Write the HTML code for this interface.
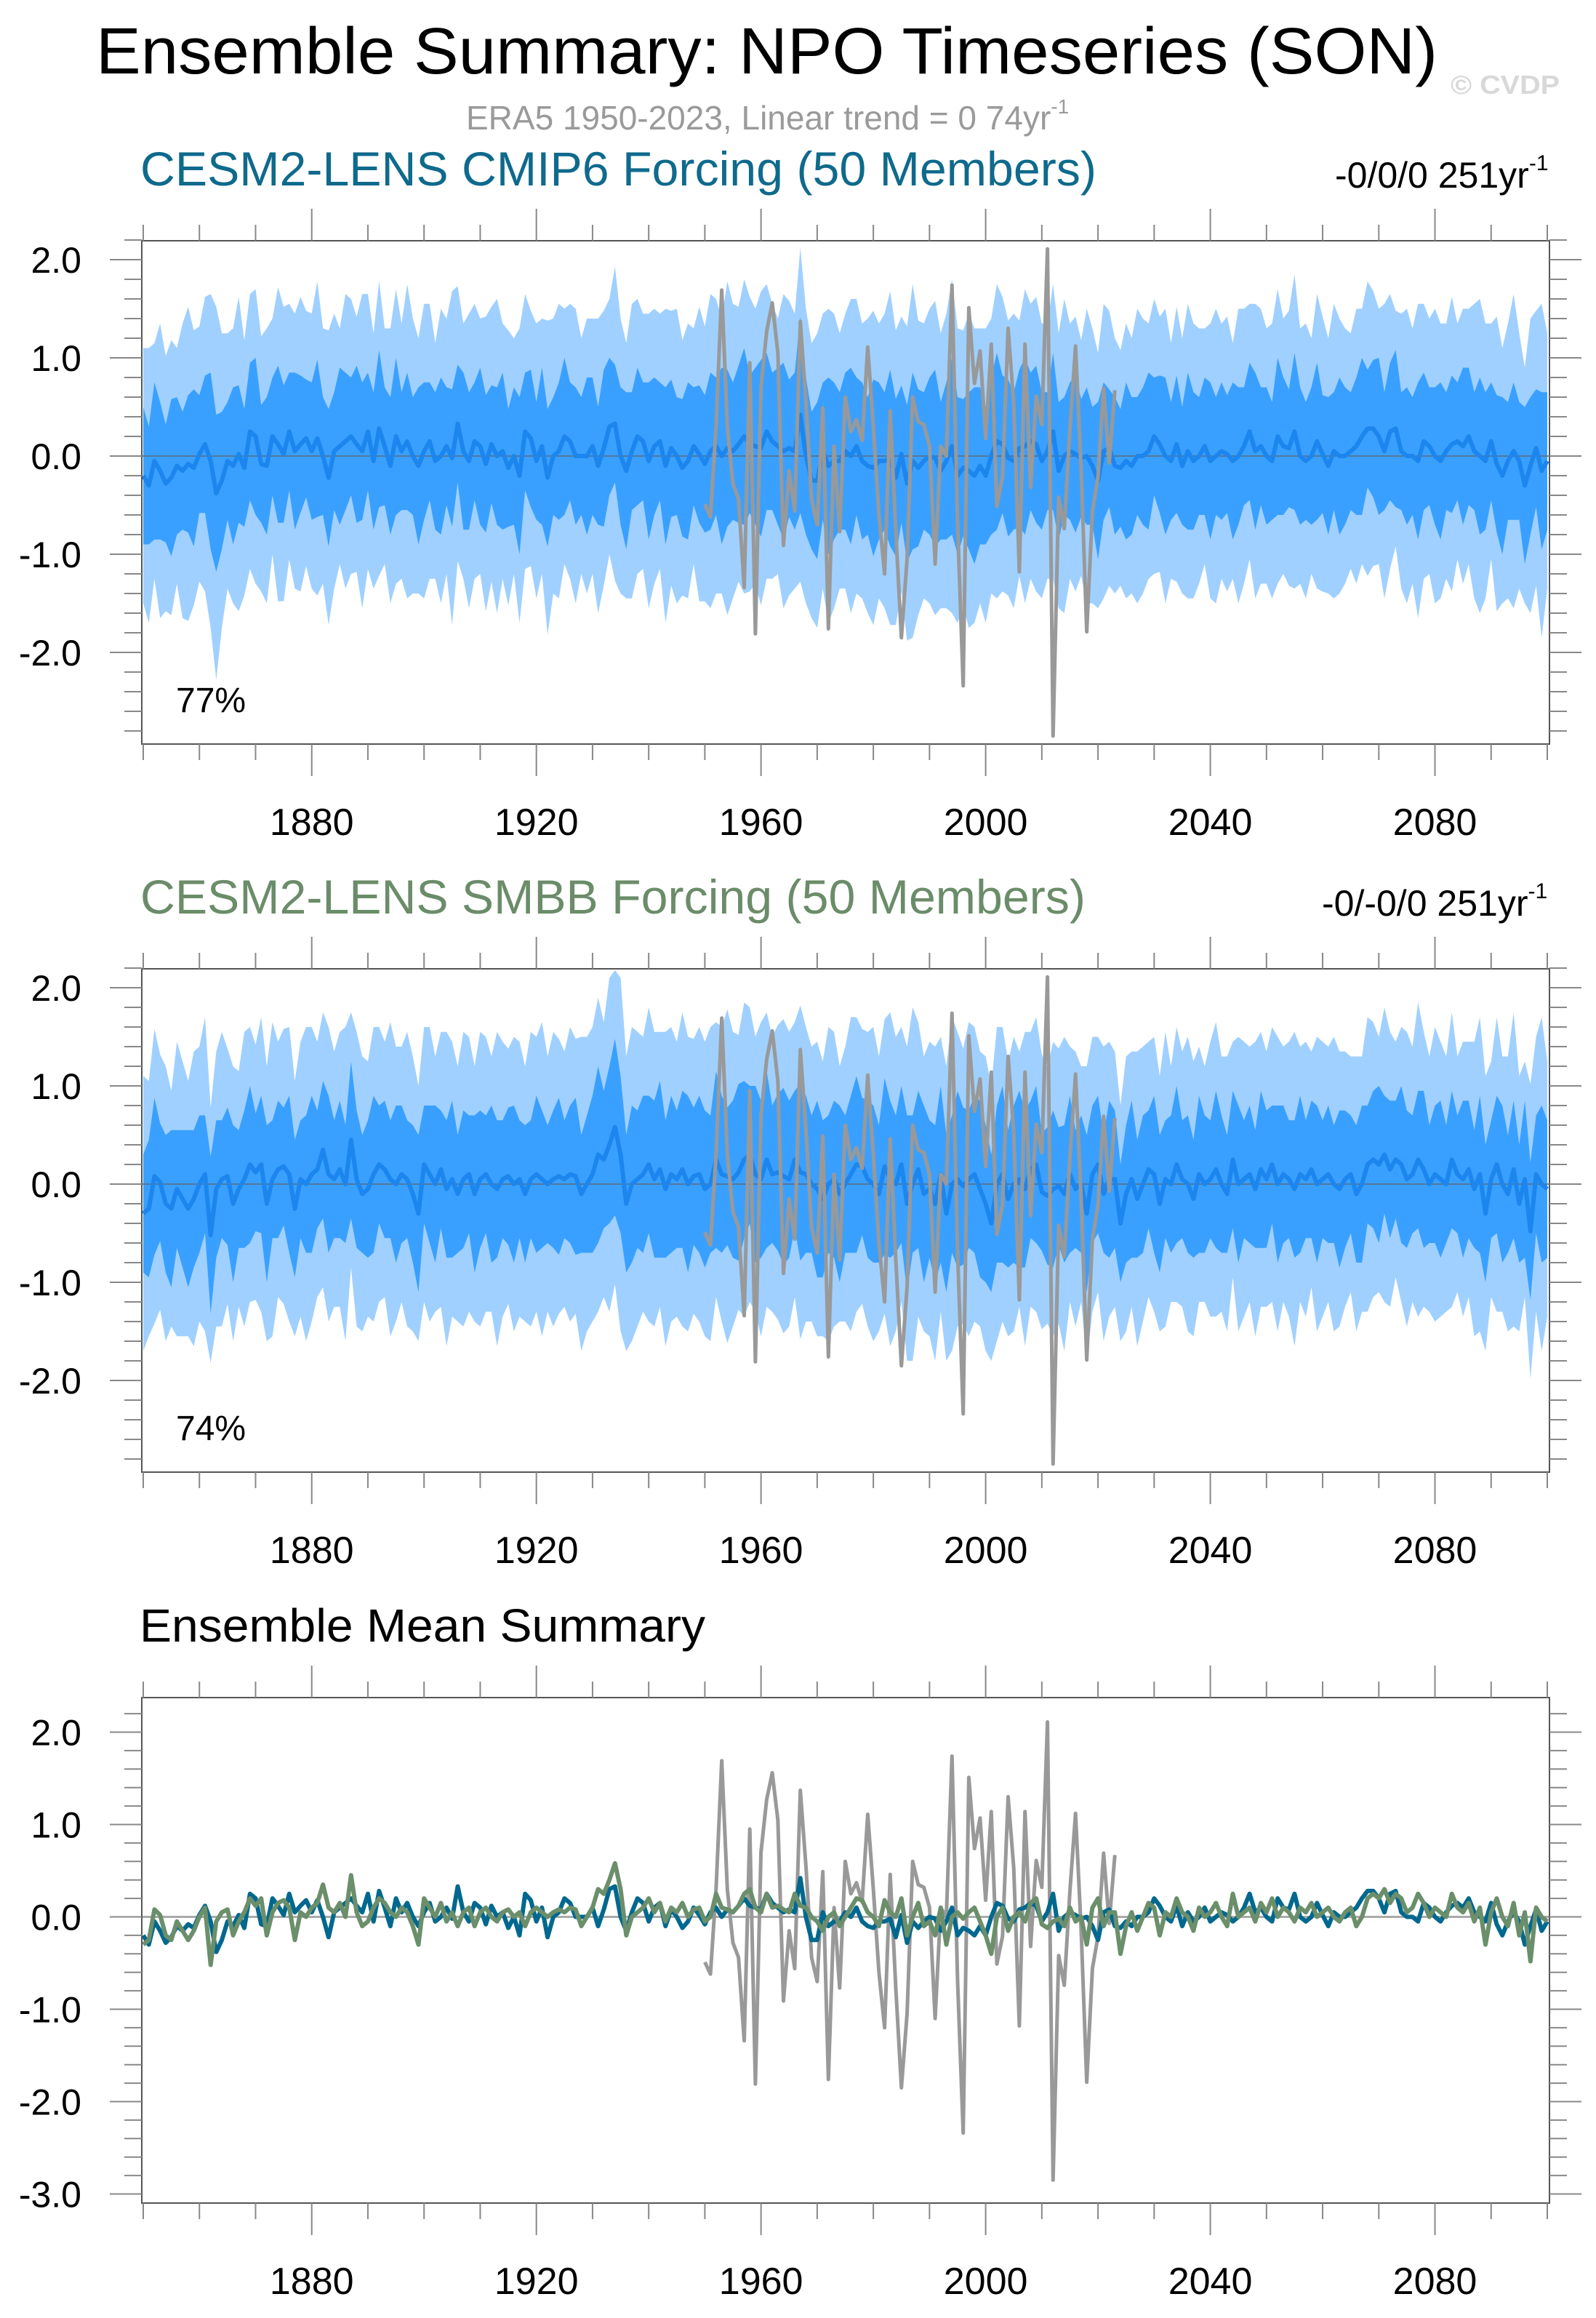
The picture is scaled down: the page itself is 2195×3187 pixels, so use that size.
<!DOCTYPE html>
<html><head><meta charset="utf-8">
<style>
html,body{margin:0;padding:0;background:#fff;}
svg{display:block;font-family:"Liberation Sans",Arial,sans-serif;}
</style></head>
<body>
<svg id="chart" xmlns="http://www.w3.org/2000/svg" width="2195" height="3187" viewBox="0 0 2195 3187">
<rect x="0" y="0" width="2195" height="3187" fill="#fff"/>
<text x="132" y="101" font-size="90" fill="#000" textLength="1845" lengthAdjust="spacingAndGlyphs">Ensemble Summary: NPO Timeseries (SON)</text>
<text x="1995" y="129" font-size="36" font-weight="bold" fill="#d8d8d8" textLength="150" lengthAdjust="spacingAndGlyphs">© CVDP</text>
<text x="641" y="178" font-size="46" fill="#9a9a9a">ERA5 1950-2023, Linear trend = 0 74yr<tspan font-size="28" dy="-22">-1</tspan></text>
<text x="193" y="255" font-size="66" fill="#0f6a8c" textLength="1315" lengthAdjust="spacingAndGlyphs">CESM2-LENS CMIP6 Forcing (50 Members)</text>
<text x="1836" y="258" font-size="50" fill="#000">-0/0/0 251yr<tspan font-size="30" dy="-24">-1</tspan></text>
<text x="193" y="1256" font-size="66" fill="#6b8c69" textLength="1300" lengthAdjust="spacingAndGlyphs">CESM2-LENS SMBB Forcing (50 Members)</text>
<text x="1818" y="1259" font-size="50" fill="#000">-0/-0/0 251yr<tspan font-size="30" dy="-24">-1</tspan></text>
<text x="192" y="2257" font-size="64" fill="#000" textLength="778" lengthAdjust="spacingAndGlyphs">Ensemble Mean Summary</text>
<g id="panels"></g>
</svg>
<script>
const years0 = 1850;
const era5Start = 1950;
const era5 = [-0.49,-0.62,0.30,1.69,0.30,-0.28,-0.44,-1.34,0.95,-1.81,
0.70,1.27,1.56,1.05,-0.91,-0.15,-0.56,1.37,0.55,-0.44,
-0.70,0.49,-1.76,0.10,-0.77,0.60,0.25,0.37,0.16,1.11,
0.30,-0.60,-1.20,0.46,-0.77,-1.85,-1.05,0.60,0.35,0.32,
0.10,-1.10,0.10,0.00,1.74,-0.70,-2.34,1.51,0.74,1.07,
0.18,1.14,-0.51,-0.21,1.30,0.53,-1.18,1.14,-0.32,0.61,
0.32,2.11,-2.85,-0.42,-0.74,0.28,1.12,-0.14,-1.79,-0.56,
-0.21,0.69,-0.07,0.67];
const meanCmip6 = [-0.20,-0.30,-0.05,-0.15,-0.28,-0.22,-0.10,-0.15,-0.08,-0.12,
0.02,0.12,-0.05,-0.38,-0.25,-0.05,-0.10,0.02,-0.12,0.25,
0.20,-0.08,-0.10,0.20,0.12,0.02,0.25,0.05,0.12,0.18,
0.05,0.18,0.00,-0.22,0.05,0.10,0.15,0.20,0.12,0.05,
0.25,-0.05,0.28,0.10,-0.10,0.20,0.05,0.15,0.00,-0.10,
0.05,0.15,-0.05,0.00,0.10,-0.02,0.33,0.05,-0.05,0.15,
0.10,-0.08,0.12,0.00,0.05,-0.12,0.00,-0.20,0.25,0.18,
-0.05,0.10,-0.22,0.00,0.05,0.20,0.15,0.00,0.00,0.00,
0.10,-0.10,0.08,0.30,0.33,0.00,-0.15,0.05,0.20,0.15,
-0.05,0.10,0.15,-0.10,0.08,0.00,-0.12,-0.05,0.10,0.02,
-0.08,0.05,0.10,0.00,0.08,0.05,0.12,0.20,0.12,0.10,
0.08,0.25,0.15,0.10,0.05,0.08,0.05,0.42,0.00,-0.25,
-0.25,0.05,-0.10,-0.05,-0.05,0.05,0.00,0.10,-0.05,-0.10,
-0.12,-0.05,-0.05,-0.02,-0.22,0.02,-0.28,-0.05,-0.12,-0.05,
0.00,-0.02,-0.15,-0.05,0.10,-0.20,-0.12,-0.15,-0.20,-0.10,
-0.20,0.00,0.15,0.12,-0.02,-0.05,0.08,0.10,0.15,0.12,
-0.05,0.05,0.25,-0.15,0.00,0.05,0.02,-0.02,0.00,-0.10,
-0.25,0.05,0.08,-0.10,-0.12,-0.05,-0.10,0.00,0.00,0.05,
0.20,0.12,0.00,-0.05,0.12,-0.10,0.05,-0.05,0.00,0.10,
-0.05,0.00,0.05,0.02,-0.05,0.00,0.10,0.25,0.05,0.10,
0.00,-0.05,0.20,0.10,0.08,0.25,0.00,-0.05,0.00,0.15,
0.02,-0.10,0.05,0.00,0.00,0.05,0.10,0.20,0.28,0.28,
0.20,0.05,0.25,0.28,0.05,0.00,0.00,-0.05,0.15,0.10,
0.00,-0.05,0.05,0.12,0.15,0.10,0.20,0.05,0.00,-0.05,
0.15,-0.08,-0.20,-0.05,0.05,-0.05,-0.30,-0.10,0.08,-0.15,
-0.05];
const meanSmbb = [-0.30,-0.25,0.08,0.02,-0.20,-0.25,-0.05,-0.15,-0.25,-0.15,
0.00,0.10,-0.52,-0.05,0.05,0.08,-0.20,-0.05,0.05,0.20,
0.12,0.20,-0.20,0.05,0.15,0.18,0.10,-0.25,0.05,0.00,
0.10,0.15,0.35,0.10,0.05,0.15,0.00,0.45,0.05,-0.10,
-0.05,0.10,0.20,0.15,0.05,0.00,0.10,0.05,-0.10,-0.30,
0.20,0.10,0.00,0.15,-0.05,0.05,-0.10,0.05,0.10,-0.10,
0.05,0.10,0.00,-0.05,0.05,0.08,0.00,0.05,-0.10,0.05,
0.10,0.05,0.00,0.05,0.08,0.05,0.10,0.08,-0.10,0.00,
0.10,0.30,0.25,0.40,0.58,0.30,-0.20,0.00,0.05,0.10,
0.20,0.05,0.15,-0.05,0.10,0.05,0.15,0.00,0.08,0.10,
-0.05,0.00,0.25,0.10,0.08,0.05,0.12,0.25,0.30,0.10,
0.05,0.25,0.10,0.12,0.08,0.05,0.25,0.12,0.10,0.00,
-0.05,-0.15,0.00,0.05,-0.10,0.00,0.10,0.20,0.18,0.05,
0.00,-0.10,0.18,0.05,0.00,0.20,-0.20,0.00,0.15,-0.10,
-0.05,-0.20,0.10,-0.30,0.00,0.05,-0.02,0.05,0.10,-0.05,
-0.20,-0.40,0.00,0.10,-0.15,0.00,0.05,-0.05,0.15,0.20,
-0.08,-0.12,-0.05,-0.02,-0.10,0.10,-0.05,0.00,-0.30,0.10,
0.20,-0.10,0.05,0.05,-0.40,-0.10,0.05,-0.15,0.00,0.15,
0.10,-0.20,0.05,0.00,0.20,0.05,0.00,-0.15,0.10,0.00,
0.05,0.15,0.00,-0.10,0.25,0.00,0.05,0.10,-0.05,0.15,
0.05,0.20,0.00,0.10,0.05,-0.05,0.10,0.05,0.15,0.00,
0.05,0.10,0.00,-0.05,0.05,0.10,-0.10,0.00,0.20,0.25,
0.20,0.30,0.15,0.25,0.20,0.05,0.10,0.25,0.15,0.00,
0.10,0.05,0.00,0.25,0.10,0.05,0.15,-0.05,0.10,-0.30,
0.05,0.20,0.00,-0.10,0.15,-0.20,0.05,-0.48,0.10,0.00,
-0.05];
const outerCmip6 = [1.3,1.4,1.2,1.5,1.3,1.4,1.2,1.5,1.6,1.4,
1.3,1.5,1.7,1.9,1.5,1.3,1.4,1.6,1.3,1.4,
1.5,1.3,1.4,1.2,1.6,1.5,1.3,1.4,1.5,1.3,
1.4,1.6,1.3,1.5,1.4,1.2,1.5,1.4,1.3,1.6,
1.4,1.3,1.5,1.2,1.4,1.5,1.3,1.6,1.4,1.3,
1.5,1.4,1.2,1.5,1.3,1.7,1.4,1.3,1.5,1.4,
1.3,1.5,1.4,1.6,1.3,1.4,1.2,1.5,1.4,1.3,
1.4,1.3,1.6,1.4,1.5,1.3,1.4,1.5,1.2,1.4,
1.3,1.5,1.4,1.3,1.6,1.4,1.3,1.5,1.4,1.3,
1.5,1.4,1.3,1.6,1.4,1.5,1.3,1.4,1.2,1.5,
1.4,1.6,1.5,1.4,1.7,1.5,1.4,1.6,1.5,1.4,
1.6,1.5,1.4,1.3,1.6,1.5,1.4,1.7,1.5,1.4,
1.5,1.4,1.6,1.5,1.3,1.4,1.6,1.5,1.4,1.5,
1.6,1.4,1.5,1.7,1.5,1.4,1.6,1.8,1.5,1.4,
1.5,1.6,1.4,1.5,1.7,1.5,1.4,1.6,1.5,1.4,
1.5,1.4,1.6,1.5,1.4,1.5,1.3,1.6,1.4,1.5,
1.4,1.3,1.5,1.4,1.6,1.3,1.4,1.2,1.5,1.4,
1.3,1.5,1.4,1.3,1.2,1.4,1.3,1.5,1.4,1.3,
1.4,1.3,1.5,1.2,1.4,1.3,1.5,1.4,1.3,1.2,
1.4,1.5,1.3,1.4,1.2,1.5,1.4,1.3,1.5,1.4,
1.3,1.4,1.5,1.3,1.4,1.6,1.3,1.4,1.2,1.5,
1.4,1.3,1.5,1.4,1.3,1.2,1.4,1.3,1.5,1.4,
1.3,1.5,1.4,1.2,1.4,1.5,1.3,1.6,1.4,1.3,
1.5,1.4,1.3,1.5,1.2,1.4,1.3,1.5,1.6,1.4,
1.2,1.5,1.3,1.4,1.6,1.3,1.2,1.5,1.4,1.7,
1.3];
const innerCmip6 = [0.7,0.6,0.8,0.7,0.6,0.8,0.7,0.6,0.7,0.8,
0.6,0.7,0.9,0.8,0.7,0.6,0.8,0.7,0.6,0.7,
0.8,0.6,0.7,0.6,0.8,0.7,0.6,0.8,0.7,0.6,
0.7,0.8,0.6,0.7,0.6,0.8,0.7,0.6,0.8,0.7,
0.6,0.7,0.8,0.6,0.7,0.8,0.6,0.7,0.6,0.8,
0.7,0.6,0.7,0.8,0.6,0.7,0.6,0.8,0.7,0.6,
0.8,0.7,0.6,0.7,0.8,0.6,0.7,0.8,0.6,0.7,
0.6,0.8,0.7,0.6,0.7,0.8,0.6,0.7,0.6,0.8,
0.7,0.6,0.8,0.7,0.6,0.7,0.8,0.6,0.7,0.6,
0.8,0.7,0.6,0.8,0.7,0.6,0.7,0.8,0.6,0.7,
0.7,0.8,0.7,0.9,0.8,0.7,0.8,0.9,0.7,0.8,
0.9,0.8,0.7,0.8,0.9,0.7,0.8,1.0,0.8,0.7,
0.8,0.7,0.9,0.8,0.7,0.8,0.9,0.7,0.8,0.7,
0.9,0.8,0.7,0.9,0.8,0.7,0.8,0.9,0.8,0.7,
0.8,0.9,0.7,0.8,0.9,0.8,0.7,0.8,0.9,0.8,
0.7,0.8,0.9,0.7,0.8,0.7,0.8,0.9,0.7,0.8,
0.7,0.6,0.8,0.7,0.6,0.7,0.8,0.6,0.7,0.6,
0.8,0.7,0.6,0.7,0.6,0.8,0.7,0.6,0.7,0.8,
0.6,0.7,0.8,0.6,0.7,0.6,0.8,0.7,0.6,0.7,
0.8,0.6,0.7,0.6,0.8,0.7,0.6,0.7,0.8,0.6,
0.7,0.6,0.8,0.7,0.6,0.8,0.7,0.6,0.7,0.8,
0.6,0.7,0.6,0.8,0.7,0.6,0.7,0.8,0.6,0.7,
0.8,0.6,0.7,0.8,0.6,0.7,0.6,0.8,0.7,0.6,
0.7,0.8,0.6,0.7,0.6,0.8,0.7,0.6,0.8,0.7,
0.6,0.7,0.8,0.6,0.7,0.6,0.8,0.7,0.6,0.8,
0.7];
const outerSmbb = [1.4,1.3,1.5,1.3,1.4,1.2,1.5,1.4,1.3,1.5,
1.4,1.6,1.3,1.4,1.5,1.3,1.4,1.2,1.5,1.4,
1.3,1.5,1.4,1.6,1.3,1.4,1.5,1.3,1.4,1.6,
1.5,1.3,1.4,1.5,1.3,1.4,1.6,1.3,1.5,1.4,
1.3,1.5,1.4,1.3,1.6,1.4,1.3,1.5,1.4,1.3,
1.4,1.5,1.3,1.4,1.6,1.4,1.3,1.5,1.4,1.3,
1.5,1.4,1.3,1.6,1.4,1.3,1.5,1.4,1.3,1.5,
1.4,1.6,1.3,1.5,1.4,1.3,1.5,1.4,1.6,1.5,
1.5,1.6,1.4,1.7,1.6,1.8,1.5,1.6,1.5,1.4,
1.6,1.5,1.4,1.6,1.5,1.4,1.6,1.5,1.4,1.5,
1.5,1.6,1.4,1.5,1.7,1.5,1.4,1.6,1.5,1.4,
1.6,1.5,1.4,1.5,1.6,1.5,1.4,1.7,1.5,1.4,
1.5,1.4,1.6,1.5,1.3,1.4,1.6,1.5,1.4,1.5,
1.6,1.4,1.5,1.7,1.5,1.4,1.6,1.8,1.5,1.4,
1.5,1.6,1.4,1.5,1.7,1.5,1.4,1.6,1.5,1.4,
1.5,1.4,1.6,1.5,1.4,1.5,1.3,1.6,1.4,1.5,
1.4,1.3,1.5,1.4,1.6,1.3,1.4,1.2,1.5,1.4,
1.3,1.5,1.4,1.3,1.2,1.4,1.3,1.5,1.4,1.3,
1.4,1.3,1.5,1.2,1.4,1.3,1.5,1.4,1.3,1.2,
1.4,1.5,1.3,1.4,1.2,1.5,1.4,1.3,1.5,1.4,
1.3,1.4,1.5,1.3,1.4,1.6,1.3,1.4,1.2,1.5,
1.4,1.3,1.5,1.4,1.3,1.2,1.4,1.3,1.5,1.4,
1.3,1.5,1.4,1.2,1.4,1.5,1.3,1.6,1.4,1.3,
1.5,1.4,1.3,1.5,1.2,1.4,1.3,1.5,1.6,1.4,
1.2,1.5,1.3,1.4,1.6,1.3,1.2,1.5,1.4,1.7,
1.3];
const innerSmbb = [0.6,0.7,0.8,0.6,0.7,0.8,0.6,0.7,0.8,0.7,
0.7,0.6,0.8,0.7,0.6,0.7,0.8,0.6,0.7,0.8,
0.6,0.7,0.8,0.6,0.7,0.6,0.8,0.7,0.6,0.7,
0.8,0.6,0.7,0.8,0.6,0.7,0.6,0.8,0.7,0.6,
0.7,0.8,0.6,0.7,0.6,0.8,0.7,0.6,0.7,0.8,
0.6,0.7,0.8,0.6,0.7,0.8,0.6,0.7,0.6,0.8,
0.7,0.6,0.8,0.7,0.6,0.7,0.8,0.6,0.7,0.6,
0.8,0.7,0.6,0.7,0.8,0.6,0.7,0.8,0.6,0.7,
0.8,0.9,0.7,0.8,0.9,0.8,0.7,0.8,0.7,0.8,
0.7,0.8,0.9,0.7,0.8,0.7,0.8,0.9,0.7,0.8,
0.8,0.7,0.9,0.8,0.7,0.8,0.9,0.8,0.7,0.9,
0.8,0.9,0.7,0.8,0.9,0.8,0.7,0.9,0.8,0.7,
0.9,0.8,0.7,0.8,0.9,0.7,0.8,0.9,0.7,0.8,
0.8,0.7,0.9,0.8,0.7,0.8,0.9,0.7,0.8,0.9,
0.7,0.8,0.9,0.8,0.7,0.9,0.8,0.7,0.8,0.9,
0.8,0.7,0.8,0.9,0.7,0.8,0.9,0.8,0.7,0.8,
0.6,0.7,0.8,0.6,0.7,0.8,0.6,0.7,0.8,0.7,
0.7,0.6,0.8,0.7,0.6,0.7,0.8,0.6,0.7,0.6,
0.8,0.7,0.6,0.7,0.8,0.6,0.7,0.6,0.8,0.7,
0.6,0.8,0.7,0.6,0.7,0.8,0.6,0.7,0.6,0.8,
0.7,0.6,0.8,0.7,0.6,0.7,0.8,0.6,0.7,0.8,
0.6,0.7,0.6,0.8,0.7,0.6,0.7,0.8,0.6,0.7,
0.8,0.6,0.7,0.6,0.8,0.7,0.6,0.7,0.8,0.6,
0.7,0.8,0.6,0.7,0.6,0.8,0.7,0.6,0.8,0.7,
0.6,0.7,0.8,0.6,0.7,0.6,0.8,0.7,0.6,0.8,
0.7];
const xTickYears = [1880,1920,1960,2000,2040,2080];
const xTickLabels = ["1880","1920","1960","2000","2040","2080"];
const yTickValsTop = [2,1,0,-1,-2];
const yTickLabelsTop = ["2.0","1.0","0.0","-1.0","-2.0"];
const yTickValsBottom = [2,1,0,-1,-2,-3];
const yTickLabelsBottom = ["2.0","1.0","0.0","-1.0","-2.0","-3.0"];

const NS = "http://www.w3.org/2000/svg";
const root = document.getElementById('panels');
function mk(tag, attrs, parent){
  const e = document.createElementNS(NS, tag);
  for (const k in attrs) e.setAttribute(k, attrs[k]);
  (parent||root).appendChild(e);
  return e;
}
const X0 = 197, X1 = 2128, FL = 195, FR = 2131;
function xs(yr){ return X0 + (yr - 1850) * (X1 - X0) / 250; }

function panel(p){
  const ys = v => p.zero - v * p.scale;
  const g = mk('g', {});
  
  
  const clipId = 'clip-' + p.name;
  const cp = mk('clipPath', {id: clipId}, g);
  mk('rect', {x: FL, y: p.top, width: FR - FL, height: p.bottom - p.top}, cp);
  const plot = mk('g', {'clip-path': 'url(#' + clipId + ')'}, g);
  function band(mean, w, fill, nm){
    let up = [], dn = [];
    for (let i = 0; i < mean.length; i++){
      up.push(xs(years0 + i).toFixed(1) + ',' + ys(mean[i] + w[i]).toFixed(1));
      dn.unshift(xs(years0 + i).toFixed(1) + ',' + ys(mean[i] - w[i]).toFixed(1));
    }
    const e = mk('polygon', {points: up.concat(dn).join(' '), fill: fill}, plot);
    
    
  }
  function line(arr, start, color, width, nm){
    const pts = arr.map((v, i) => xs(start + i).toFixed(1) + ',' + ys(v).toFixed(1)).join(' ');
    const e = mk('polyline', {points: pts, fill: 'none', stroke: color, 'stroke-width': width, 'stroke-linejoin': 'round'}, plot);
    
    
  }
  if (p.mean){
    band(p.mean, p.outer, '#a0d0ff', 'outer-spread-band');
    band(p.mean, p.inner, '#3aa0ff', 'inner-spread-band');
  }
  const zl = mk('line', {x1: FL, x2: FR, y1: ys(0), y2: ys(0), stroke: p.mean ? '#5a6a7a' : '#aaa', 'stroke-width': p.mean ? 1.5 : 3}, plot);
  
  
  if (p.mean){
    line(p.mean, years0, '#1c86ee', 6, 'ensemble-mean-line');
    line(era5, era5Start, '#999', 5, 'era5-line');
  } else {
    line(era5, era5Start, '#999', 5, 'era5-line');
    line(meanCmip6, years0, '#00688e', 6, 'cmip6-mean-line');
    line(meanSmbb, years0, '#6b8e6b', 6, 'smbb-mean-line');
  }
  const fr = mk('rect', {x: FL, y: p.top, width: FR - FL, height: p.bottom - p.top, fill: 'none', stroke: '#555', 'stroke-width': 2}, g);
  
  
  for (let yr = 1850; yr <= 2100; yr += 10){
    const major = xTickYears.indexOf(yr) >= 0;
    const L = major ? 44 : 22;
    mk('line', {x1: xs(yr), x2: xs(yr), y1: p.top, y2: p.top - L, stroke: '#888', 'stroke-width': 2}, g);
    mk('line', {x1: xs(yr), x2: xs(yr), y1: p.bottom, y2: p.bottom + L, stroke: '#888', 'stroke-width': 2}, g);
  }
  xTickYears.forEach((yr, i) => {
    const t = mk('text', {x: xs(yr), y: p.bottom + 125, 'font-size': 52, 'text-anchor': 'middle', fill: '#000'}, g);
    t.textContent = xTickLabels[i];
    
    
  });
  for (let k = -40; k <= 30; k++){
    const v = k / 5;
    const y = ys(v);
    if (y < p.top - 1 || y > p.bottom + 1) continue;
    const major = (k % 5 === 0);
    const L = major ? 44 : 24;
    mk('line', {x1: FL, x2: FL - L, y1: y, y2: y, stroke: '#888', 'stroke-width': 2}, g);
    mk('line', {x1: FR, x2: FR + L, y1: y, y2: y, stroke: '#888', 'stroke-width': 2}, g);
  }
  p.yv.forEach((v, i) => {
    const t = mk('text', {x: 112, y: ys(v) + 18, 'font-size': 50, 'text-anchor': 'end', fill: '#000'}, g);
    t.textContent = p.yl[i];
    
    
  });
  if (p.pct){
    const t = mk('text', {x: 242, y: p.bottom - 44, 'font-size': 48, fill: '#000'}, g);
    t.textContent = p.pct;
    
    
  }
}
panel({name: 'cmip6-panel', top: 331, bottom: 1023, zero: 627, scale: 135, mean: meanCmip6, outer: outerCmip6, inner: innerCmip6, yv: yTickValsTop, yl: yTickLabelsTop, pct: '77%'});
panel({name: 'smbb-panel', top: 1332, bottom: 2024, zero: 1628, scale: 135, mean: meanSmbb, outer: outerSmbb, inner: innerSmbb, yv: yTickValsTop, yl: yTickLabelsTop, pct: '74%'});
panel({name: 'ensemble-mean-panel', top: 2334, bottom: 3029, zero: 2635.5, scale: 127, yv: yTickValsBottom, yl: yTickLabelsBottom});
</script>
</body></html>
